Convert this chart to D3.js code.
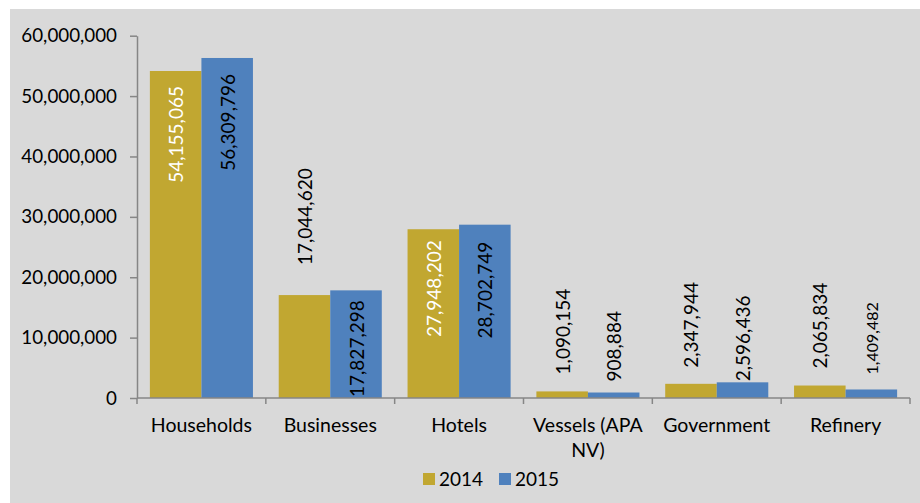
<!DOCTYPE html>
<html><head><meta charset="utf-8">
<script src="https://cdn.jsdelivr.net/npm/d3@7"></script>
<style>html,body{margin:0;padding:0;background:#fff}svg{display:block}text{font-family:Lato,"Open Sans",sans-serif}</style>
</head><body>
<svg id="c" width="920" height="503"></svg>
<script>
const categories = ["Households", "Businesses", "Hotels", "Vessels (APA NV)", "Government", "Refinery"];
const seriesNames = ["2014", "2015"];
const values2014 = [54155065, 17044620, 27948202, 1090154, 2347944, 2065834];
const values2015 = [56309796, 17827298, 28702749, 908884, 2596436, 1409482];
const yTicks = [0, 10000000, 20000000, 30000000, 40000000, 50000000, 60000000];

(function () {
const colors = ["#c1a731", "#4f81bd"];
// label placement per [category][series]: mode, gap(px), text colour, font size
const labelCfg = [
  [["in", 15, "#fff", 19], ["in", 16, "#000", 19]],
  [["out", 30, "#000", 19], ["base", 1, "#000", 19]],
  [["in", 11, "#fff", 19], ["in", 17, "#000", 19]],
  [["out", 17, "#000", 19], ["out", 11, "#000", 19]],
  [["out", 16, "#000", 19], ["out", 1, "#000", 19]],
  [["out", 17, "#000", 19], ["out", 15, "#000", 16]]
];

const svg = d3.select("#c");
svg.append("rect").attr("x", 10).attr("y", 9).attr("width", 910).attr("height", 494).attr("fill", "#d9d9d9");

const mL = 137, mR = 910, mT = 35.7, mB = 398;
const x = d3.scaleBand().domain(categories).range([mL, mR]).paddingInner(0).paddingOuter(0);
const y = d3.scaleLinear().domain([0, 60000000]).range([mB, mT]);
const inner = d3.scaleBand().domain(seriesNames).range([0, x.bandwidth()]).paddingInner(0).paddingOuter(0.25);

const data = categories.map((c, i) => ({c, i, vals: [values2014[i], values2015[i]]}));
const fmt = d3.format(",");

const g = svg.append("g");
data.forEach(d => {
  d.vals.forEach((v, s) => {
    const bx = x(d.c) + inner(seriesNames[s]);
    g.append("rect").attr("x", bx).attr("y", y(v)).attr("width", inner.bandwidth()).attr("height", y(0) - y(v)).attr("fill", colors[s]);
  });
});

const axisColor = "#868686";
const yAxis = svg.append("g").attr("transform", `translate(${mL},0)`)
  .call(d3.axisLeft(y).tickValues(yTicks).tickFormat(fmt).tickSize(7).tickSizeOuter(0));
yAxis.select(".domain").attr("stroke", axisColor).attr("stroke-width", 1.5);
yAxis.selectAll(".tick line").attr("stroke", axisColor).attr("stroke-width", 1.5);
yAxis.selectAll(".tick text").attr("font-size", 18.8).attr("fill", "#000").attr("x", -20).attr("font-family", "Lato");

const xa = svg.append("g").attr("transform", `translate(0,${mB})`);
xa.append("line").attr("x1", mL).attr("x2", mR).attr("y1", 0).attr("y2", 0).attr("stroke", axisColor).attr("stroke-width", 1.5);
const bounds = categories.map(c => x(c)).concat([mR]);
xa.selectAll("line.tk").data(bounds).enter().append("line").attr("class", "tk")
  .attr("x1", d => d).attr("x2", d => d).attr("y1", 0).attr("y2", 6).attr("stroke", axisColor).attr("stroke-width", 1.5);
const catLines = {"Vessels (APA NV)": ["Vessels (APA", "NV)"]};
categories.forEach(c => {
  const lines = catLines[c] || [c];
  lines.forEach((ln, k) => {
    xa.append("text").attr("x", x(c) + x.bandwidth() / 2).attr("y", 34 + k * 25)
      .attr("text-anchor", "middle").attr("font-size", 19.5).attr("fill", "#000").text(ln);
  });
});

data.forEach(d => {
  d.vals.forEach((v, s) => {
    const [mode, gap, col, fs] = labelCfg[d.i][s];
    const cx = x(d.c) + inner(seriesNames[s]) + inner.bandwidth() / 2;
    let ay, anchor;
    if (mode === "in") { ay = y(v) + gap; anchor = "end"; }
    else if (mode === "out") { ay = y(v) - gap; anchor = "start"; }
    else { ay = y(0) - gap; anchor = "start"; }
    g.append("text").attr("transform", `translate(${cx},${ay}) rotate(-90)`)
      .attr("text-anchor", anchor).attr("dominant-baseline", "central")
      .attr("font-size", fs).attr("fill", col).text(fmt(v));
  });
});

const leg = svg.append("g");
const legX = [423, 499];
seriesNames.forEach((n, s) => {
  leg.append("rect").attr("x", legX[s]).attr("y", 473).attr("width", 12).attr("height", 12).attr("fill", colors[s]);
  leg.append("text").attr("x", legX[s] + 16).attr("y", 486).attr("font-size", 19).attr("fill", "#000").text(n);
});
})();
</script>
</body></html>
